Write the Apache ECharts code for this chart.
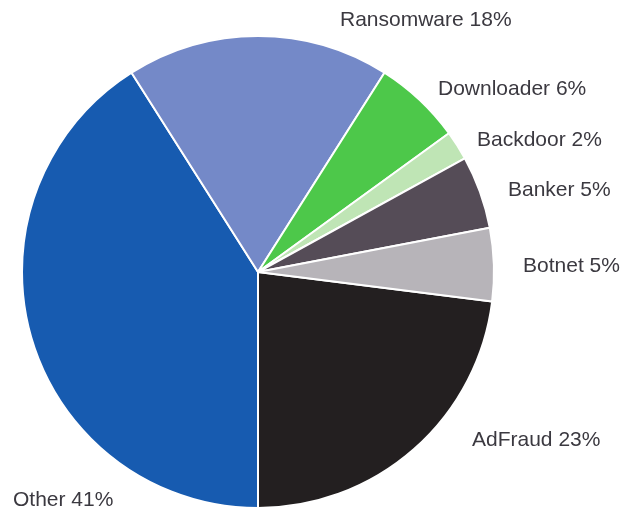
<!DOCTYPE html>
<html>
<head>
<meta charset="utf-8">
<script src="https://cdn.jsdelivr.net/npm/echarts@6/dist/echarts.min.js"></script>
<style>
  html, body { margin: 0; padding: 0; background: #ffffff; }
  #chart { width: 625px; height: 511px; }
</style>
</head>
<body>
<div id="chart"></div>
<script>
// Malware share by family, drawn clockwise starting just below 3 o'clock
const categories = ['AdFraud', 'Other', 'Ransomware', 'Downloader', 'Backdoor', 'Banker', 'Botnet'];
const shares = [23, 41, 18, 6, 2, 5, 5];
const sliceColors = ['#231f20', '#175bb0', '#7489c8', '#4dc84a', '#bfe5b5', '#554c57', '#b7b4b9'];

// Where each slice's caption sits (left edge, vertical middle), in pixels
const labelSpots = [
  [472, 440],  // AdFraud
  [13, 500],   // Other
  [340, 20],   // Ransomware
  [438, 89],   // Downloader
  [477, 140],  // Backdoor
  [508, 190],  // Banker
  [523, 266]   // Botnet
];

const chart = echarts.init(document.getElementById('chart'), null, { renderer: 'canvas' });

chart.setOption({
  animation: false,
  backgroundColor: '#ffffff',
  series: [{
    type: 'pie',
    center: [258, 272],
    radius: [0, 236],
    startAngle: -7.2,
    clockwise: true,
    avoidLabelOverlap: false,
    itemStyle: { borderColor: '#ffffff', borderWidth: 2 },
    label: {
      show: true,
      position: 'outside',
      formatter: p => p.name + ' ' + p.value + '%',
      fontFamily: 'Liberation Sans',
      fontSize: 21,
      color: '#3b3940'
    },
    labelLine: { show: false },
    labelLayout: params => {
      const spot = labelSpots[params.dataIndex];
      return { x: spot[0], y: spot[1], align: 'left', verticalAlign: 'middle' };
    },
    data: categories.map((name, i) => ({
      name: name,
      value: shares[i],
      itemStyle: { color: sliceColors[i] }
    }))
  }]
});
</script>
</body>
</html>
